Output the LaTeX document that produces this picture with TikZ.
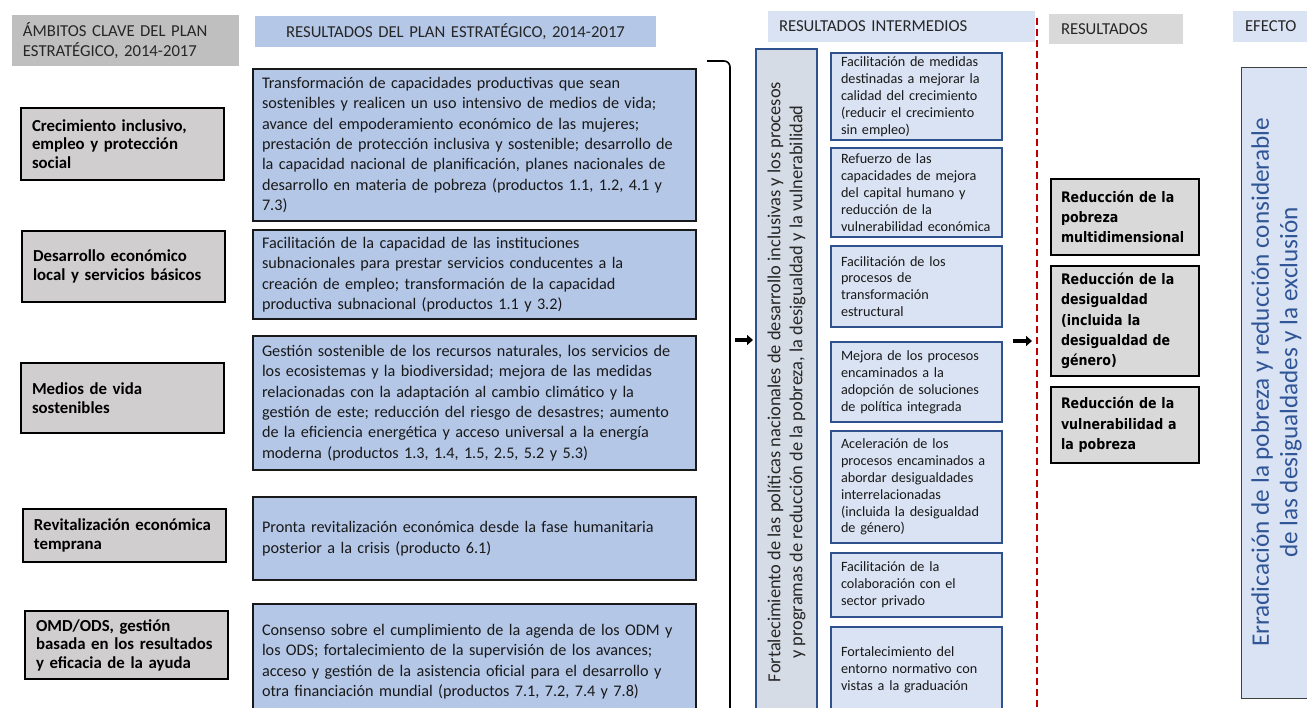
\documentclass[tikz,border=0pt]{standalone}
\usepackage{fontspec}
\setmainfont{Carlito}
\newfontfamily\resfont[FakeStretch=0.87]{DejaVu Sans}
\usepackage{tikz}
\usetikzlibrary{arrows.meta}
\definecolor{ambgray}{RGB}{191,191,191}
\definecolor{planblue}{RGB}{180,199,231}
\definecolor{leftgray}{RGB}{208,206,206}
\definecolor{lightblue}{RGB}{218,227,243}
\definecolor{vboxfill}{RGB}{214,220,229}
\definecolor{ibblue}{RGB}{47,82,143}
\definecolor{resgray}{RGB}{217,217,217}
\definecolor{efeblue}{RGB}{47,85,151}
\definecolor{dashred}{RGB}{192,0,0}

\begin{document}
\begin{tikzpicture}[x=1pt, y=-1pt,
  every node/.style={inner ysep=0pt, outer sep=0pt},
  hdr/.style={anchor=north west, fill=#1, inner xsep=11pt, align=left, text=black!85, font={\fontsize{16.7}{20}\selectfont}},
  leftbox/.style={anchor=north west, draw=black, line width=1.3pt, fill=leftgray, text width=181pt, inner xsep=11pt, align=left, minimum height=#1, font={\bfseries\fontsize{16.8}{18.5}\selectfont}},
  planbox/.style={anchor=north west, draw=black!90, line width=1.6pt, fill=planblue, text width=425pt, inner xsep=9pt, align=left, minimum height=#1, text=black!90, font={\hyphenpenalty=10000\fontsize{16.2}{20.4}\selectfont}},
  intbox/.style={anchor=north west, draw=ibblue, line width=1.4pt, fill=lightblue, text width=151pt, inner xsep=10pt, align=left, minimum height=#1, text=black!90, font={\fontsize{14.2}{16.9}\selectfont}},
  resbox/.style={anchor=north west, draw=black, line width=1.6pt, fill=resgray, text width=128pt, inner xsep=10pt, align=left, minimum height=#1, font={\resfont\bfseries\fontsize{14.5}{20.3}\selectfont}},
  fatarrow/.style={line width=3.5pt, -{Triangle[length=6pt,width=10pt]}},
  bracket/.style={line width=1.6pt, rounded corners=6pt},
  reddash/.style={dashred, line width=2.2pt, dash pattern=on 7pt off 4pt}
]
\useasboundingbox (0,0) rectangle (1307,708);

\node[hdr=ambgray, text width=205pt, minimum height=51pt] (hamb) at (12,15) {ÁMBITOS CLAVE DEL PLAN\\ESTRATÉGICO, 2014-2017};
\node[hdr=planblue, text width=379pt, minimum height=31pt, align=center] (hplan) at (255,16) {RESULTADOS DEL PLAN ESTRATÉGICO, 2014-2017};
\node[hdr=lightblue, text width=245pt, minimum height=31pt] (hint) at (768,11) {RESULTADOS INTERMEDIOS};
\node[hdr=resgray, text width=110pt, minimum height=30pt, inner xsep=12pt] (hres) at (1049,14) {RESULTADOS};
\node[hdr=lightblue, text width=56pt, minimum height=31pt, inner xsep=12pt] (hefe) at (1233,11) {EFECTO};

\node[leftbox=72pt] (amb1) at (21,108) {Crecimiento inclusivo,\\empleo y protección\\social};
\node[leftbox=71pt] (amb2) at (22,231) {Desarrollo económico\\local y servicios básicos};
\node[leftbox=70pt] (amb3) at (21,363) {Medios de vida\\sostenibles};
\node[leftbox=53pt] (amb4) at (23,509) {Revitalización económica\\temprana};
\node[leftbox=68pt] (amb5) at (25,611) {OMD/ODS, gestión\\basada en los resultados\\y eficacia de la ayuda};

\node[planbox=152pt] (plan1) at (253,69) {Transformación de capacidades productivas que sean\\sostenibles y realicen un uso intensivo de medios de vida;\\avance del empoderamiento económico de las mujeres;\\prestación de protección inclusiva y sostenible; desarrollo de\\la capacidad nacional de planificación, planes nacionales de\\desarrollo en materia de pobreza (productos 1.1, 1.2, 4.1 y\\7.3)};
\node[planbox=89pt] (plan2) at (253,230) {Facilitación de la capacidad de las instituciones\\subnacionales para prestar servicios conducentes a la\\creación de empleo; transformación de la capacidad\\productiva subnacional (productos 1.1 y 3.2)};
\node[planbox=134pt] (plan3) at (253,336) {Gestión sostenible de los recursos naturales, los servicios de\\los ecosistemas y la biodiversidad; mejora de las medidas\\relacionadas con la adaptación al cambio climático y la\\gestión de este; reducción del riesgo de desastres; aumento\\de la eficiencia energética y acceso universal a la energía\\moderna (productos 1.3, 1.4, 1.5, 2.5, 5.2 y 5.3)};
\node[planbox=83pt] (plan4) at (253,497) {Pronta revitalización económica desde la fase humanitaria\\posterior a la crisis (producto 6.1)};
\node[planbox=115pt] (plan5) at (253,604) {Consenso sobre el cumplimiento de la agenda de los ODM y\\los ODS; fortalecimiento de la supervisión de los avances;\\acceso y gestión de la asistencia oficial para el desarrollo y\\otra financiación mundial (productos 7.1, 7.2, 7.4 y 7.8)};

\coordinate (brka) at (707,61);
\coordinate (brkb) at (730,712);
\draw[bracket] (brka) -| (brkb);

\node[draw=ibblue, line width=2pt, fill=vboxfill, rotate=90, minimum width=666pt, minimum height=61pt, align=center, text=black!85, font={\fontsize{18.4}{22}\selectfont}] (vbox) at (786.5,382) {Fortalecimiento de las políticas nacionales de desarrollo inclusivas y los procesos\\y programas de reducción de la pobreza, la desigualdad y la vulnerabilidad};

\coordinate (arr1) at (735,340);
\draw[fatarrow, shorten >=3pt] (arr1) -- (arr1 -| vbox.north);

\node[intbox=87pt] (int1) at (831,53) {Facilitación de medidas\\destinadas a mejorar la\\calidad del crecimiento\\(reducir el crecimiento\\sin empleo)};
\node[intbox=89pt] (int2) at (831,148) {Refuerzo de las\\capacidades de mejora\\del capital humano y\\reducción de la\\vulnerabilidad económica};
\node[intbox=81pt] (int3) at (831,246) {Facilitación de los\\procesos de\\transformación\\estructural};
\node[intbox=80pt] (int4) at (831,342) {Mejora de los procesos\\encaminados a la\\adopción de soluciones\\de política integrada};
\node[intbox=112pt] (int5) at (831,431) {Aceleración de los\\procesos encaminados a\\abordar desigualdades\\interrelacionadas\\(incluida la desigualdad\\de género)};
\node[intbox=64pt] (int6) at (831,553) {Facilitación de la\\colaboración con el\\sector privado};
\node[intbox=85pt] (int7) at (831,627) {Fortalecimiento del\\entorno normativo con\\vistas a la graduación};

\coordinate (redtop) at (1037,18);
\coordinate (redbot) at (1037,708);
\draw[reddash] (redtop) -- (redbot);

\coordinate (arr2) at (1013,341);
\draw[fatarrow, shorten >=5pt] (arr2) -- (arr2 -| redtop);

\node[resbox=76pt] (res1) at (1051,179) {Reducción de la\\pobreza\\multidimensional};
\node[resbox=110pt] (res2) at (1051,266) {Reducción de la\\desigualdad\\(incluida la\\desigualdad de\\género)};
\node[resbox=76pt] (res3) at (1051,387) {Reducción de la\\vulnerabilidad a\\la pobreza};

\node[draw=black!75, line width=0.8pt, fill=lightblue, rotate=90, minimum width=631pt, minimum height=71pt, align=center, text=efeblue, font={\fontsize{25.2}{28.5}\selectfont}] (efe) at (1276.5,382.5) {Erradicación de la pobreza y reducción considerable\\de las desigualdades y la exclusión};
\end{tikzpicture}
\end{document}
